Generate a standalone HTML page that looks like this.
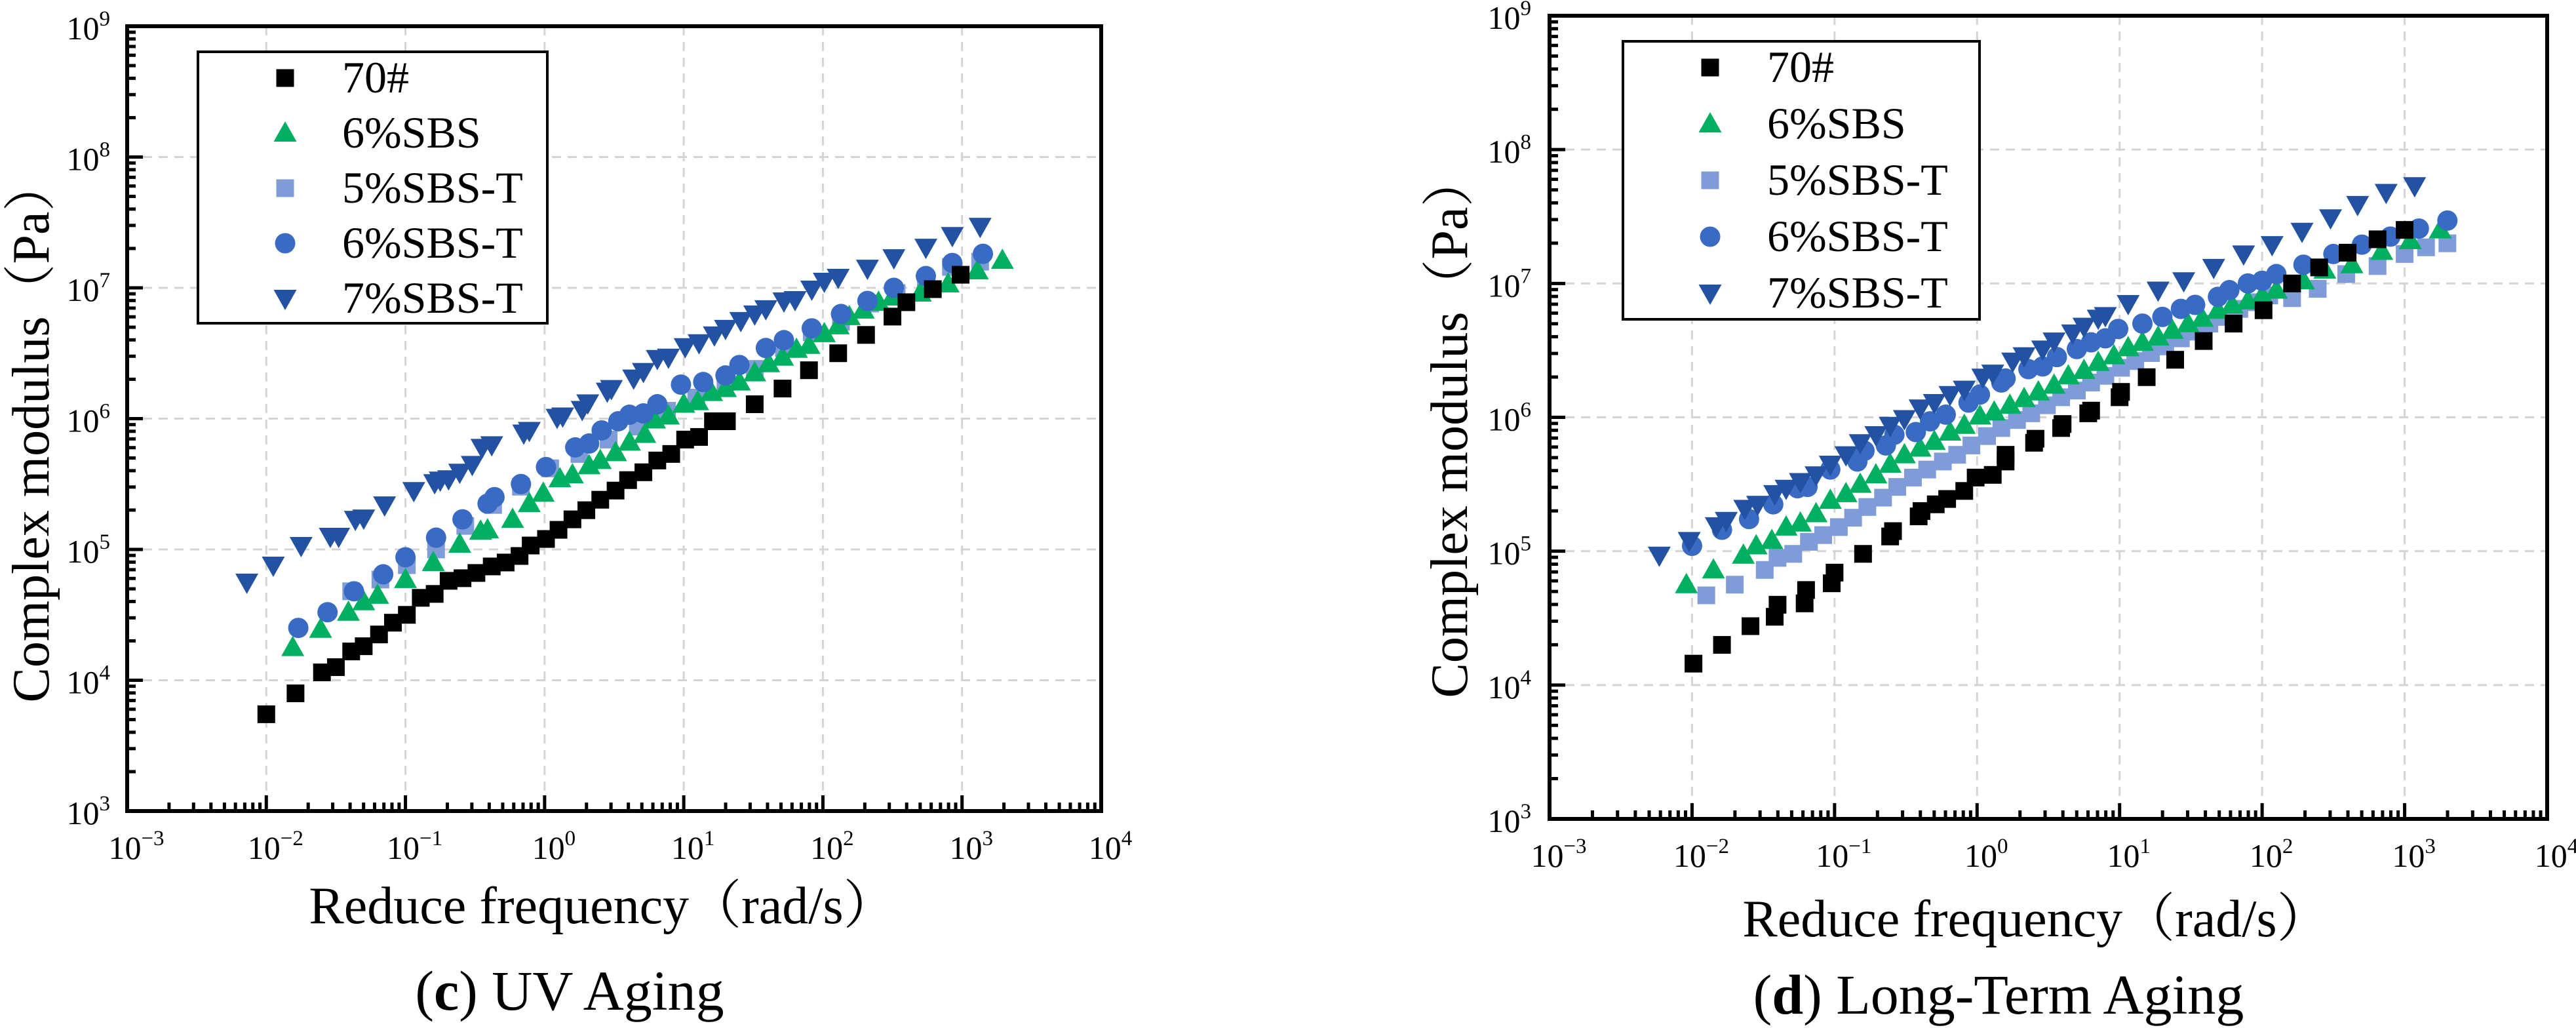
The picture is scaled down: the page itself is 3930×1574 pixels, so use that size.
<!DOCTYPE html>
<html><head><meta charset="utf-8"><style>
html,body{margin:0;padding:0;background:#fff;}
svg{display:block;font-family:"Liberation Serif","Noto Serif CJK SC",serif;}
</style></head><body>
<svg id="fig" width="3930" height="1574" viewBox="0 0 3930 1574" xmlns="http://www.w3.org/2000/svg"></svg>
<script>
// ---------- Data (log10 values) ----------
const seriesNames = ["70#","6%SBS","5%SBS-T","6%SBS-T","7%SBS-T"];
const xTickExps = [-3,-2,-1,0,1,2,3,4];
const yTickExps = [3,4,5,6,7,8,9];

// Panel (c) UV Aging
const c70LogF = [-2.00,-1.79,-1.60,-1.50,-1.39,-1.30,-1.19,-1.09,-0.99,-0.89,-0.79,-0.69,-0.59,-0.49,-0.38,-0.28,-0.18,-0.10,0.01,0.10,0.20,0.30,0.40,0.51,0.60,0.71,0.81,0.91,1.01,1.11,1.21,1.31,1.51,1.71,1.90,2.11,2.31,2.50,2.60,2.79,2.99];
const c70LogG = [3.74,3.90,4.06,4.10,4.22,4.26,4.35,4.44,4.50,4.63,4.66,4.76,4.78,4.82,4.87,4.90,4.95,5.03,5.08,5.15,5.23,5.30,5.38,5.45,5.53,5.59,5.68,5.73,5.84,5.86,5.98,5.98,6.11,6.23,6.37,6.50,6.64,6.78,6.89,6.99,7.10];
const c6sLogF = [-1.81,-1.61,-1.41,-1.30,-1.20,-1.00,-0.80,-0.61,-0.46,-0.41,-0.23,-0.11,-0.01,0.11,0.20,0.32,0.40,0.51,0.61,0.72,0.79,0.89,1.00,1.10,1.20,1.30,1.40,1.51,1.61,1.71,1.81,1.90,2.01,2.11,2.19,2.29,2.40,2.50,2.70,2.90,3.11,3.29];
const c6sLogG = [4.25,4.39,4.52,4.60,4.65,4.77,4.90,5.04,5.14,5.15,5.23,5.35,5.43,5.54,5.57,5.64,5.68,5.74,5.82,5.88,5.99,6.02,6.11,6.13,6.20,6.23,6.28,6.35,6.42,6.47,6.53,6.56,6.65,6.71,6.78,6.83,6.89,6.93,6.96,7.03,7.13,7.21];
const c5tLogF = [-1.39,-1.18,-0.99,-0.78,-0.57,-0.37,-0.17,0.04,0.25,0.46,0.67,0.88,1.09,1.30,1.51,1.72,1.92,2.13,2.34,2.53,2.74,2.92,3.13];
const c5tLogG = [4.68,4.77,4.88,5.00,5.18,5.34,5.48,5.62,5.73,5.84,5.94,6.06,6.16,6.28,6.38,6.54,6.66,6.74,6.88,6.96,7.06,7.16,7.20];
const c6tLogF = [-1.77,-1.56,-1.37,-1.16,-1.00,-0.78,-0.59,-0.41,-0.36,-0.17,0.01,0.22,0.32,0.41,0.53,0.61,0.71,0.81,0.98,1.14,1.30,1.40,1.59,1.72,1.92,2.13,2.32,2.51,2.74,2.93,3.15];
const c6tLogG = [4.40,4.52,4.68,4.81,4.94,5.09,5.23,5.35,5.40,5.50,5.63,5.78,5.81,5.91,5.98,6.03,6.04,6.11,6.26,6.28,6.33,6.41,6.54,6.60,6.69,6.80,6.90,7.00,7.09,7.19,7.26];
const c7tLogF = [-2.14,-1.95,-1.75,-1.54,-1.48,-1.36,-1.30,-1.15,-0.94,-0.79,-0.75,-0.69,-0.61,-0.52,-0.45,-0.38,-0.15,-0.11,0.09,0.13,0.27,0.31,0.45,0.48,0.64,0.71,0.81,0.89,1.01,1.11,1.22,1.30,1.41,1.51,1.59,1.72,1.80,1.92,2.01,2.11,2.32,2.51,2.74,2.93,3.13];
const c7tLogG = [4.75,4.88,5.03,5.10,5.10,5.23,5.24,5.34,5.45,5.51,5.53,5.54,5.59,5.65,5.78,5.80,5.89,5.91,6.01,6.02,6.07,6.12,6.21,6.23,6.31,6.36,6.46,6.47,6.55,6.58,6.64,6.69,6.75,6.80,6.84,6.90,6.91,6.99,7.05,7.08,7.15,7.23,7.31,7.40,7.47];

// Panel (d) Long-Term Aging
const d70LogF = [-1.99,-1.79,-1.59,-1.42,-1.40,-1.21,-1.20,-1.02,-1.00,-0.80,-0.61,-0.59,-0.41,-0.39,-0.29,-0.21,-0.09,-0.01,0.11,0.20,0.20,0.40,0.41,0.59,0.60,0.78,0.80,1.00,1.01,1.19,1.39,1.59,1.80,2.01,2.21,2.40,2.60,2.81,3.00];
const d70LogG = [4.16,4.30,4.44,4.51,4.60,4.61,4.71,4.76,4.84,4.98,5.11,5.15,5.26,5.30,5.35,5.39,5.45,5.55,5.57,5.67,5.72,5.81,5.84,5.92,5.95,6.03,6.05,6.15,6.19,6.30,6.43,6.57,6.70,6.80,7.00,7.12,7.23,7.33,7.40];
const d6sLogF = [-2.04,-1.85,-1.64,-1.55,-1.44,-1.34,-1.24,-1.13,-1.03,-0.92,-0.82,-0.71,-0.61,-0.51,-0.40,-0.30,-0.19,-0.09,0.02,0.12,0.23,0.33,0.43,0.54,0.64,0.75,0.85,0.96,1.06,1.16,1.27,1.37,1.48,1.58,1.69,1.79,1.90,2.00,2.10,2.29,2.44,2.63,2.84,3.04,3.25];
const d6sLogG = [4.75,4.86,4.97,5.04,5.08,5.18,5.21,5.28,5.38,5.43,5.50,5.57,5.65,5.72,5.77,5.82,5.89,5.94,6.01,6.04,6.09,6.14,6.19,6.24,6.31,6.35,6.41,6.46,6.52,6.56,6.60,6.65,6.70,6.74,6.80,6.84,6.87,6.91,6.95,7.02,7.10,7.14,7.24,7.32,7.40];
const d5tLogF = [-1.90,-1.70,-1.49,-1.40,-1.29,-1.18,-1.08,-0.97,-0.87,-0.77,-0.66,-0.56,-0.45,-0.35,-0.24,-0.14,-0.04,0.07,0.17,0.28,0.38,0.49,0.59,0.70,0.80,0.90,1.01,1.11,1.22,1.32,1.43,1.53,1.63,1.74,1.84,1.95,2.05,2.21,2.39,2.59,2.81,3.00,3.15,3.30];
const d5tLogG = [4.67,4.75,4.86,4.95,4.98,5.07,5.12,5.18,5.25,5.33,5.40,5.48,5.55,5.61,5.67,5.72,5.79,5.86,5.92,5.98,6.03,6.09,6.15,6.20,6.26,6.31,6.37,6.42,6.48,6.53,6.59,6.64,6.70,6.75,6.81,6.86,6.91,6.89,6.96,7.07,7.13,7.22,7.27,7.30];
const d6tLogF = [-2.00,-1.79,-1.60,-1.43,-1.26,-1.19,-1.03,-0.84,-0.79,-0.64,-0.58,-0.43,-0.33,-0.22,-0.06,0.02,0.17,0.20,0.36,0.46,0.56,0.70,0.80,0.90,0.99,1.16,1.30,1.43,1.53,1.69,1.77,1.90,2.00,2.10,2.29,2.50,2.70,2.90,3.10,3.30];
const d6tLogG = [5.04,5.16,5.24,5.35,5.47,5.48,5.61,5.67,5.75,5.79,5.87,5.89,5.97,6.02,6.11,6.17,6.26,6.29,6.36,6.38,6.45,6.51,6.56,6.59,6.66,6.70,6.75,6.81,6.84,6.90,6.95,7.00,7.02,7.07,7.14,7.22,7.29,7.35,7.41,7.47];
const d7tLogF = [-2.23,-2.02,-1.83,-1.76,-1.63,-1.54,-1.42,-1.34,-1.24,-1.13,-1.03,-0.92,-0.82,-0.71,-0.61,-0.51,-0.40,-0.30,-0.19,-0.09,0.04,0.11,0.25,0.33,0.46,0.54,0.67,0.75,0.85,0.90,1.06,1.27,1.45,1.66,1.87,2.07,2.28,2.48,2.67,2.87,3.07];
const d7tLogG = [4.97,5.08,5.19,5.23,5.32,5.35,5.43,5.47,5.52,5.57,5.65,5.72,5.81,5.87,5.94,5.99,6.07,6.11,6.17,6.21,6.30,6.33,6.42,6.46,6.51,6.57,6.63,6.68,6.74,6.76,6.85,6.95,7.02,7.12,7.22,7.29,7.39,7.49,7.59,7.68,7.73];

// ---------- Rendering ----------
const NS = "http://www.w3.org/2000/svg";
const fig = document.getElementById("fig");
const styles = [
  {shape:"square", color:"#000000"},
  {shape:"tri", color:"#00b060"},
  {shape:"square", color:"#7f9cd8"},
  {shape:"circle", color:"#3a6bc4"},
  {shape:"tridown", color:"#2352a3"}
];
function mk(tag, attrs, parent){
  const e = document.createElementNS(NS, tag);
  for (const k in attrs) e.setAttribute(k, attrs[k]);
  parent.appendChild(e);
  return e;
}
function marker(g, shape, color, cx, cy){
  let e;
  if (shape==="square") e = mk("rect",{x:cx-13.5,y:cy-13.5,width:27,height:27,fill:color},g);
  else if (shape==="circle") e = mk("circle",{cx:cx,cy:cy,r:15.5,fill:color},g);
  else if (shape==="tri") e = mk("polygon",{points:`${cx},${cy-18} ${cx+17.5},${cy+13} ${cx-17.5},${cy+13}`,fill:color,"stroke-linejoin":"round"},g);
  else e = mk("polygon",{points:`${cx-17.5},${cy-13} ${cx+17.5},${cy-13} ${cx},${cy+18}`,fill:color},g);
  return e;
}
function drawPanel(cfg, series){
  const g = mk("g",{},fig);
  
  
  const L=cfg.left,R=cfg.right,T=cfg.top,B=cfg.bottom;
  const xs = v => L + (v - (-3)) / 7 * (R - L);
  const ys = v => B - (v - 3) / 6 * (B - T);
  const grid = mk("g",{stroke:"#d4d4d4","stroke-width":3,"stroke-dasharray":"14,10"},g);
  
  
  xTickExps.slice(1,-1).forEach(e=>mk("line",{x1:xs(e),x2:xs(e),y1:T,y2:B},grid));
  yTickExps.slice(1,-1).forEach(e=>mk("line",{x1:L,x2:R,y1:ys(e),y2:ys(e)},grid));
  const tk = mk("g",{stroke:"#000","stroke-width":5},g);
  
  
  for (let d=-3; d<4; d++){
    for (let m=1;m<=9;m++){
      const v = d + Math.log10(m);
      const len = m===1?24:13;
      mk("line",{x1:xs(v),x2:xs(v),y1:B,y2:B-len},tk);
    }
  }
  for (let d=3; d<9; d++){
    for (let m=1;m<=9;m++){
      const v = d + Math.log10(m);
      const len = m===1?24:13;
      mk("line",{x1:L,x2:L+len,y1:ys(v),y2:ys(v)},tk);
    }
  }
  xTickExps.forEach(e=>{
    const t = mk("text",{x:xs(e)+14,y:cfg.xLabBase,"font-size":50,"text-anchor":"middle"},g);
    
    
    t.innerHTML = `10<tspan dy="-21" font-size="33">${e<0?"\u2212"+(-e):e}</tspan>`;
  });
  yTickExps.forEach(e=>{
    const t = mk("text",{x:cfg.yLabRight,y:ys(e)+20,"font-size":50,"text-anchor":"end"},g);
    
    
    t.innerHTML = `10<tspan dy="-21" font-size="33">${e}</tspan>`;
  });
  [2,1,3,4,0].forEach(si=>{
    const sg = mk("g",{},g);
    
    
    const fx = series[si][0], gy = series[si][1];
    for (let i=0;i<fx.length;i++){
      const p = marker(sg, styles[si].shape, styles[si].color, xs(fx[i]), ys(gy[i]));
      
      
    }
  });
  const fr = mk("rect",{x:L,y:T,width:R-L,height:B-T,fill:"none",stroke:"#000","stroke-width":6},g);
  
  
  const lg = mk("g",{},g);
  
  
  mk("rect",{x:cfg.legX,y:cfg.legY,width:cfg.legW,height:cfg.legH,fill:"#fff",stroke:"#000","stroke-width":4},lg);
  seriesNames.forEach((n,i)=>{
    const cy = cfg.legY + 40 + i*cfg.legStep;
    const e = mk("g",{},lg);
    
    
    marker(e, styles[i].shape, styles[i].color, cfg.legX+133, cy);
    const t = mk("text",{x:cfg.legX+220,y:cy+22,"font-size":68},e);
    t.textContent = n;
  });
  const xt = mk("text",{x:cfg.xTitleX,y:cfg.xTitleY,"font-size":80,"text-anchor":"middle"},g);
  
  
  xt.textContent = "Reduce frequency（rad/s）";
  const yt = mk("text",{x:0,y:0,"font-size":80,"text-anchor":"middle",transform:`translate(${cfg.yTitleX},${cfg.yTitleY}) rotate(-90)`},g);
  
  
  yt.textContent = "Complex modulus（Pa）";
  const ct = mk("text",{x:cfg.capX,y:cfg.capY,"font-size":86,"text-anchor":"middle"},g);
  
  
  ct.innerHTML = `(<tspan font-weight="bold">${cfg.letter}</tspan>) ${cfg.caption}`;
}
drawPanel({name:"panel-c-uv-aging",left:194,right:1680,top:40,bottom:1237,xLabBase:1310,yLabRight:168,
  legX:302,legY:79,legW:533,legH:414,legStep:84,xTitleX:919,xTitleY:1408,yTitleX:74,yTitleY:657,
  capX:869,capY:1540,letter:"c",caption:"UV Aging"},
  [[c70LogF,c70LogG],[c6sLogF,c6sLogG],[c5tLogF,c5tLogG],[c6tLogF,c6tLogG],[c7tLogF,c7tLogG]]);
drawPanel({name:"panel-d-long-term-aging",left:2364,right:3886,top:24,bottom:1249,xLabBase:1322,yLabRight:2336,
  legX:2476,legY:63,legW:544,legH:424,legStep:86,xTitleX:3106,xTitleY:1428,yTitleX:2238,yTitleY:650,
  capX:3049,capY:1546,letter:"d",caption:"Long-Term Aging"},
  [[d70LogF,d70LogG],[d6sLogF,d6sLogG],[d5tLogF,d5tLogG],[d6tLogF,d6tLogG],[d7tLogF,d7tLogG]]);
</script>
</body></html>
